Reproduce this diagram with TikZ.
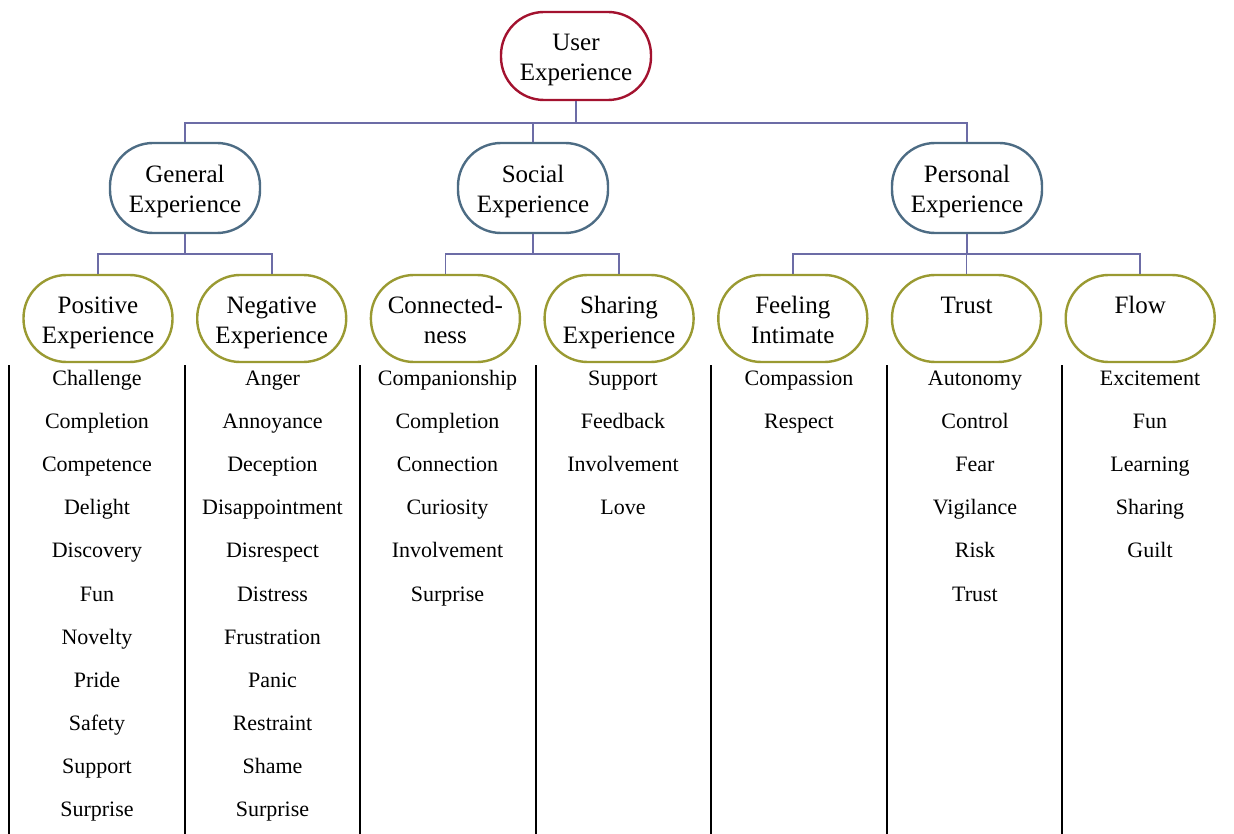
\documentclass[tikz,border=0pt]{standalone}
\usepackage{fontspec}
\setmainfont{Liberation Serif}
\usetikzlibrary{positioning}

\definecolor{uxred}{HTML}{A3122F}
\definecolor{uxblue}{HTML}{4D6C84}
\definecolor{uxolive}{HTML}{9A9A32}
\definecolor{uxlink}{HTML}{6C6CA6}

\begin{document}
\begin{tikzpicture}[x=1pt,y=-1pt,node distance=22.3pt,
    base node/.style={rectangle,rounded corners=43pt,line width=2.4pt,fill=white,
      minimum width=150pt,minimum height=88pt,align=center,
      font=\fontsize{25}{29.5}\selectfont,text height=57pt,text depth=8pt},
    top node/.style={base node,draw=uxred},
    mid node/.style={base node,draw=uxblue,minimum height=90pt},
    leaf node/.style={base node,draw=uxolive,minimum width=149pt,minimum height=87pt},
    word/.style={anchor=base,inner sep=0pt,font=\fontsize{22}{26}\selectfont},
    link/.style={draw=uxlink,line width=1.8pt},
    sep/.style={draw=black,line width=1.8pt}]

\useasboundingbox (0,0) rectangle (1234,834);

% top and second level
\node[top node] (ux) at (576,56)  {User\\Experience};
\node[mid node] (ge) at (185,188) {General\\Experience};
\node[mid node] (se) at (533,188) {Social\\Experience};
\node[mid node] (pe) at (967,188) {Personal\\Experience};

% third level, one row
\node[leaf node] (pos)                    at (98,318.5) {Positive\\Experience};
\node[leaf node] (neg)  [right=of pos]    {Negative\\Experience};
\node[leaf node] (con)  [right=of neg]    {Connected-\\ness};
\node[leaf node] (sha)  [right=of con]    {Sharing\\Experience};
\node[leaf node] (fee)  [right=of sha]    {Feeling\\Intimate};
\node[leaf node] (tru)  [right=of fee]    {Trust\\{}};
\node[leaf node] (flo)  [right=of tru]    {Flow\\{}};

% tree links
\foreach \c in {ge,se,pe}
  \draw[link] (ux.south) -- ++(0,22) -| (\c.north);
\foreach \c in {pos,neg}
  \draw[link] (ge.south) -- ++(0,20) -| (\c.north);
\foreach \c in {con,sha}
  \draw[link] (se.south) -- ++(0,20) -| (\c.north);
\foreach \c in {fee,tru,flo}
  \draw[link] (pe.south) -- ++(0,20) -| (\c.north);

% column rules
\foreach \x in {9,185,360,536,711,887,1062}
  \draw[sep] (\x,365) -- (\x,834);

% word lists
\foreach \w [count=\i] in {Challenge,Completion,Competence,Delight,Discovery,Fun,Novelty,Pride,Safety,Support,Surprise}
  \node[word] (pos-\i) at (97,385.5+43.1*\i-43.1) {\w};
\foreach \w [count=\i] in {Anger,Annoyance,Deception,Disappointment,Disrespect,Distress,Frustration,Panic,Restraint,Shame,Surprise}
  \node[word] (neg-\i) at (272.5,385.5+43.1*\i-43.1) {\w};
\foreach \w [count=\i] in {Companionship,Completion,Connection,Curiosity,Involvement,Surprise}
  \node[word] (con-\i) at (447.5,385.5+43.1*\i-43.1) {\w};
\foreach \w [count=\i] in {Support,Feedback,Involvement,Love}
  \node[word] (sha-\i) at (623,385.5+43.1*\i-43.1) {\w};
\foreach \w [count=\i] in {Compassion,Respect}
  \node[word] (fee-\i) at (799,385.5+43.1*\i-43.1) {\w};
\foreach \w [count=\i] in {Autonomy,Control,Fear,Vigilance,Risk,Trust}
  \node[word] (tru-\i) at (975,385.5+43.1*\i-43.1) {\w};
\foreach \w [count=\i] in {Excitement,Fun,Learning,Sharing,Guilt}
  \node[word] (flo-\i) at (1150,385.5+43.1*\i-43.1) {\w};
\end{tikzpicture}
\end{document}
